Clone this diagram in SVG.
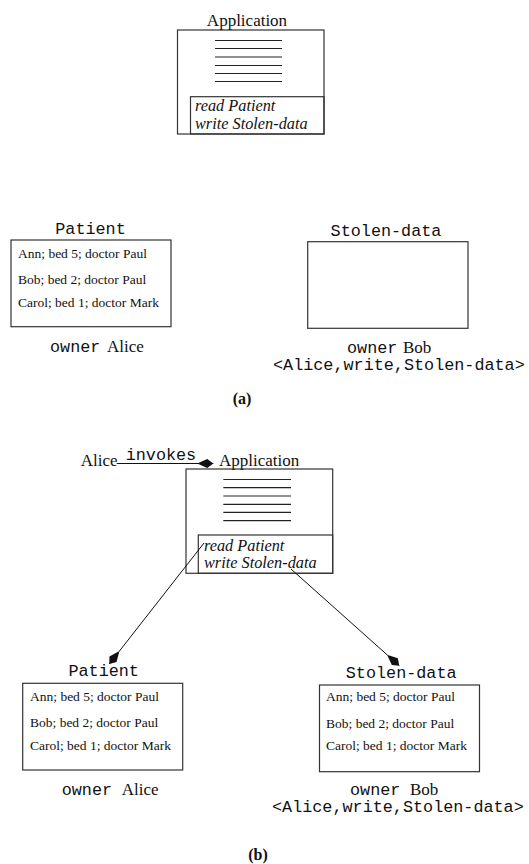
<svg xmlns="http://www.w3.org/2000/svg" width="529" height="864" viewBox="0 0 529 864">
<style>
.bx{fill:none;stroke:#333;stroke-width:1.2}
.ln{stroke:#222;stroke-width:1.2}
.tm{font-family:"Liberation Serif",serif;font-size:17px;fill:#111}
.it{font-family:"Liberation Serif",serif;font-style:italic;font-size:16.3px;fill:#111}
.mo{font-family:"Liberation Mono",monospace;font-size:16.8px;fill:#111}
.rw{font-family:"Liberation Serif",serif;font-size:13.5px;fill:#111}
.lb{font-family:"Liberation Serif",serif;font-weight:bold;font-size:16px;fill:#111}
.cn{stroke:#111;stroke-width:1;fill:none}
</style>
<defs>
<marker id="ah" markerUnits="userSpaceOnUse" viewBox="-17 -6 18 12" markerWidth="18" markerHeight="12" refX="0" refY="0" orient="auto">
<path d="M0,0 L-6,-4.5 L-15,-0.6 L-15,0.6 L-6,4.5 z" fill="#111"/>
</marker>
</defs>

<!-- Part (a) -->
<g id="app-a">
<text class="tm" x="247" y="26" text-anchor="middle">Application</text>
<rect class="bx" x="177.5" y="30" width="146.5" height="104"/>
<rect class="bx" x="190.5" y="96.7" width="133.5" height="37.3"/>
<g class="ln">
<line x1="215" y1="40.5" x2="282" y2="40.5"/>
<line x1="215" y1="48.5" x2="282" y2="48.5"/>
<line x1="215" y1="57" x2="282" y2="57"/>
<line x1="215" y1="65.5" x2="282" y2="65.5"/>
<line x1="215" y1="73.5" x2="282" y2="73.5"/>
<line x1="215" y1="81.5" x2="282" y2="81.5"/>
</g>
<text class="it" x="195" y="111">read Patient</text>
<text class="it" x="195" y="129">write Stolen-data</text>
</g>

<g id="patient-a">
<text class="mo" x="90.5" y="234" text-anchor="middle">Patient</text>
<rect class="bx" x="11" y="240" width="160" height="86.7"/>
<text class="rw" x="18" y="257.5">Ann; bed 5; doctor Paul</text>
<text class="rw" x="18" y="284">Bob; bed 2; doctor Paul</text>
<text class="rw" x="18" y="306.5">Carol; bed 1; doctor Mark</text>
<text class="mo" x="50" y="352">owner</text>
<text class="tm" x="107" y="352">Alice</text>
</g>

<g id="stolen-a">
<text class="mo" x="386" y="236" text-anchor="middle">Stolen-data</text>
<rect class="bx" x="307.7" y="241.7" width="160.3" height="86.6"/>
<text class="mo" x="347" y="353">owner</text>
<text class="tm" x="403" y="353">Bob</text>
<text class="mo" x="273" y="370">&lt;Alice,write,Stolen-data&gt;</text>
</g>

<text id="label-a" class="lb" x="242" y="404" text-anchor="middle">(a)</text>

<!-- Part (b) -->
<g id="alice-b">
<text class="tm" x="80.7" y="466">Alice</text>
</g>

<g id="app-b">
<text class="tm" x="219" y="466">Application</text>
<rect class="bx" x="186" y="469" width="146.7" height="104.3"/>
<rect class="bx" x="198.3" y="535" width="134.4" height="38.3"/>
<g class="ln">
<line x1="223.3" y1="479.5" x2="291" y2="479.5"/>
<line x1="223.3" y1="487.7" x2="291" y2="487.7"/>
<line x1="223.3" y1="496" x2="291" y2="496"/>
<line x1="223.3" y1="504.3" x2="291" y2="504.3"/>
<line x1="223.3" y1="512.3" x2="291" y2="512.3"/>
<line x1="223.3" y1="520.7" x2="291" y2="520.7"/>
</g>
<text class="it" x="204" y="551">read Patient</text>
<text class="it" x="204" y="568">write Stolen-data</text>
</g>

<g id="patient-b">
<text class="mo" x="103.7" y="676" text-anchor="middle">Patient</text>
<rect class="bx" x="22.7" y="683.3" width="160" height="86.7"/>
<text class="rw" x="30" y="701">Ann; bed 5; doctor Paul</text>
<text class="rw" x="30" y="727">Bob; bed 2; doctor Paul</text>
<text class="rw" x="30" y="749.5">Carol; bed 1; doctor Mark</text>
<text class="mo" x="61.7" y="795">owner</text>
<text class="tm" x="121.7" y="795">Alice</text>
</g>

<g id="stolen-b">
<text class="mo" x="401.2" y="678" text-anchor="middle">Stolen-data</text>
<rect class="bx" x="319.5" y="685" width="160" height="86.7"/>
<text class="rw" x="326" y="701">Ann; bed 5; doctor Paul</text>
<text class="rw" x="326" y="728">Bob; bed 2; doctor Paul</text>
<text class="rw" x="326" y="750">Carol; bed 1; doctor Mark</text>
<text class="mo" x="350" y="795">owner</text>
<text class="tm" x="410" y="795">Bob</text>
<text class="mo" x="272" y="812">&lt;Alice,write,Stolen-data&gt;</text>
</g>

<g id="connectors">
<line class="cn" x1="116.7" y1="463.5" x2="213.3" y2="463.5" marker-end="url(#ah)"/>
<text class="mo" x="125.7" y="460">invokes</text>
<line class="cn" x1="204" y1="543" x2="109.3" y2="664" marker-end="url(#ah)"/>
<line class="cn" x1="291" y1="569" x2="399.3" y2="665.7" marker-end="url(#ah)"/>
</g>

<text id="label-b" class="lb" x="258" y="860" text-anchor="middle">(b)</text>
</svg>
